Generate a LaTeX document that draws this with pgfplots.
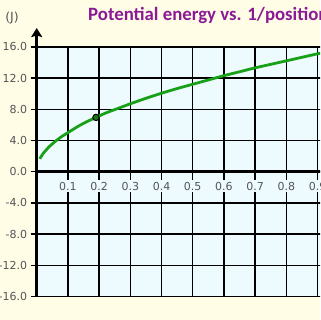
\documentclass[border=0pt]{standalone}
\usepackage{fontspec}
\setmainfont{Carlito}
\newfontfamily\tickfont{DejaVu Sans}
\usepackage{pgfplots}
\pgfplotsset{compat=1.18}
\usetikzlibrary{arrows.meta}
\definecolor{cream}{RGB}{255,253,230}
\definecolor{plotbg}{RGB}{237,251,255}
\definecolor{titlepurple}{RGB}{139,26,150}
\definecolor{curvegreen}{RGB}{25,160,25}
\definecolor{markgreen}{RGB}{20,120,20}
\definecolor{tickgray}{RGB}{85,85,85}
\begin{document}
\begin{tikzpicture}
\useasboundingbox (0pt,0pt) rectangle (320pt,320pt);
\clip (0pt,0pt) rectangle (320pt,320pt);
\fill[cream] (0pt,0pt) rectangle (320pt,320pt);
\begin{axis}[
  at={(36.7pt,23.3pt)}, anchor=south west,
  x=312pt, y=7.81pt,
  xmin=0, xmax=1.0, ymin=-16, ymax=16,
  axis background/.style={fill=plotbg},
  axis x line=middle, axis y line=left,
  x axis line style={-, line width=2.6pt},
  y axis line style={-, line width=2.6pt},
  xtick={0.1,0.2,0.3,0.4,0.5,0.6,0.7,0.8,0.9,1.0},
  ytick={-16,-12,-8,-4,0,4,8,12,16},
  grid=major,
  major grid style={black, line width=1.5pt},
  tick style={black, line width=1.5pt},
  major tick length=6pt,
  tick align=outside,
  /pgf/number format/assume math mode=true,
  xticklabel style={font=\tickfont\fontsize{11}{11}\selectfont, text=tickgray, fill=plotbg, inner sep=2pt, yshift=-2pt,
    /pgf/number format/.cd, fixed, precision=1},
  yticklabel style={font=\tickfont\fontsize{11}{11}\selectfont, text=tickgray,
    /pgf/number format/.cd, fixed, fixed zerofill, precision=1},
  clip=false,
]
\addplot[curvegreen, line width=2.8pt, smooth] coordinates {
(0.01,1.65) (0.02,2.3) (0.04,3.2) (0.06,3.9) (0.08,4.5) (0.10,5.0)
(0.13,5.75) (0.16,6.4) (0.19,6.95) (0.22,7.5) (0.26,8.1) (0.30,8.7)
(0.35,9.4) (0.40,10.05) (0.45,10.65) (0.50,11.2) (0.55,11.75) (0.60,12.3)
(0.65,12.8) (0.70,13.3) (0.75,13.75) (0.80,14.2) (0.85,14.65) (0.90,15.1) (0.95,15.5)
};
\addplot[only marks, mark=*, mark size=3.2pt, mark options={fill=markgreen, draw=black, line width=1pt}] coordinates {(0.19,6.95)};
\draw[line width=2.6pt, -{Stealth[length=9pt,width=11pt,inset=1.5pt]}] (axis cs:0,15.5) -- (axis cs:0,18.4);
\end{axis}
\node[anchor=base west, inner sep=0pt, text=titlepurple, font=\bfseries\fontsize{18.8}{18.8}\selectfont] at (88pt,299.3pt) {Potential energy vs. 1/position};
\node[inner sep=0pt, text=tickgray, font=\tickfont\fontsize{12.5}{12.5}\selectfont] at (12pt,301.7pt) {(J)};
\end{tikzpicture}
\end{document}
